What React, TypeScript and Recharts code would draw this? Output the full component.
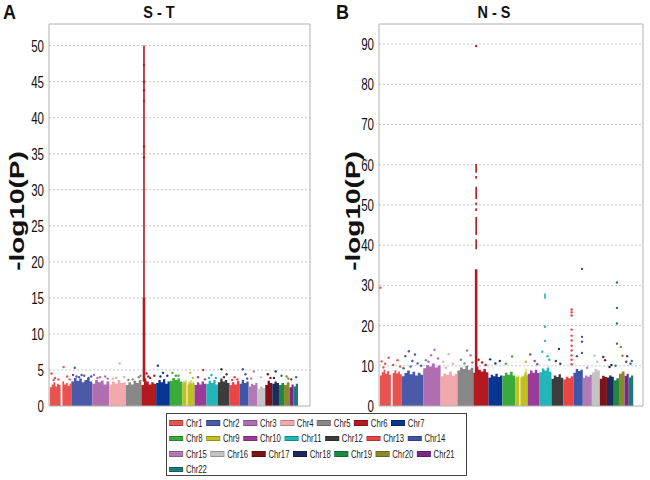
import { ComposedChart, Area, Line, Scatter, XAxis, YAxis, CartesianGrid, ReferenceArea } from 'recharts';

const FONT = '"Liberation Sans", Arial, sans-serif';
// the whole figure is squeezed horizontally, text included
const SQUEEZE = 0.7;

const CHROMS = ['Chr1', 'Chr2', 'Chr3', 'Chr4', 'Chr5', 'Chr6', 'Chr7', 'Chr8', 'Chr9', 'Chr10', 'Chr11',
  'Chr12', 'Chr13', 'Chr14', 'Chr15', 'Chr16', 'Chr17', 'Chr18', 'Chr19', 'Chr20', 'Chr21', 'Chr22'];
const CHROM_COLORS = ['#e8534f', '#4b5aa8', '#b06db0', '#f2a9ac', '#888888', '#b3191f', '#073591', '#3aaa3a',
  '#c0c01e', '#9b3b98', '#22b6b6', '#3c3c3c', '#e94545', '#3f56a8', '#b27ab4', '#c4c4c4', '#7d1318',
  '#1c2a5c', '#1f8742', '#8a8a2c', '#7a2a86', '#1b7b7b'];
const CHROM_LENGTHS = [249, 243, 198, 191, 181, 171, 159, 146, 141, 136, 135, 134, 115, 107, 103, 90, 81, 78, 59, 63, 48, 51];

// S - T panel: dense block heights per chromosome (0 = gap), then isolated hits [chr, Mb, -log10P]
const SKYLINE_ST = [
  [2.6, 3.0, 3.3, 2.7, 3.1, 2.9, 0, 3.4, 3.0, 3.2, 2.8, 3.1],
  [3.4, 3.9, 3.5, 3.8, 3.3, 3.6, 3.9, 3.4],
  [3.1, 3.6, 3.3, 3.5, 3.0, 3.4],
  [3.0, 3.4, 3.1, 3.6, 3.2, 3.3],
  [2.9, 3.3, 3.0, 3.5, 3.2, 3.6],
  [2.9, 3.8, 3.4, 3.0, 3.3, 3.1],
  [3.2, 3.6, 3.3, 3.7, 3.1, 3.4],
  [3.5, 3.9, 3.6, 3.8, 3.4],
  [3.2, 3.5, 3.3, 3.6, 0, 3.0, 3.4, 3.2, 3.6, 3.1, 3.4, 3.2],
  [2.9, 3.3, 3.0, 3.4, 3.1],
  [3.1, 3.5, 3.2, 3.6, 3.0],
  [3.3, 3.8, 3.4, 3.6, 3.2],
  [2.9, 3.3, 3.0, 3.5],
  [3.1, 3.6, 3.2, 3.4],
  [2.7, 3.1, 2.9, 3.2],
  [2.4, 2.7, 2.5],
  [2.9, 3.5, 3.2],
  [3.1, 3.4, 3.2],
  [2.9, 3.2],
  [2.9, 3.3],
  [2.6, 3.0],
  [2.7, 3.1],
];
const HITS_ST: [number, number, number][] = [
  [1, 20, 4.5], [1, 45, 3.6], [1, 60, 3.9], [1, 100, 3.7], [1, 160, 5.4], [1, 200, 4.1], [1, 230, 3.7],
  [2, 20, 4.3], [2, 40, 5.3], [2, 60, 4.1], [2, 90, 4.0], [2, 120, 4.3], [2, 150, 4.2], [2, 200, 3.9], [2, 230, 4.1],
  [3, 20, 4.3], [3, 60, 3.9], [3, 90, 4.0], [3, 150, 4.1], [3, 180, 3.8],
  [4, 40, 3.8], [4, 80, 3.9], [4, 120, 5.9], [4, 170, 4.0],
  [5, 30, 3.6], [5, 80, 3.7], [5, 150, 4.0], [5, 170, 4.2],
  [6, 60, 4.5], [6, 80, 4.1], [6, 100, 3.9], [6, 150, 4.2],
  [7, 20, 5.6], [7, 50, 4.1], [7, 80, 4.6], [7, 130, 4.2],
  [8, 30, 4.6], [8, 70, 4.2], [8, 100, 4.2],
  [9, 90, 4.6], [9, 120, 3.9],
  [10, 40, 4.0], [10, 100, 5.0], [10, 120, 3.7],
  [11, 30, 3.9], [11, 60, 4.3], [11, 110, 3.9],
  [12, 40, 5.1], [12, 70, 4.0], [12, 100, 4.4],
  [13, 30, 3.6], [13, 60, 4.0], [13, 90, 3.7],
  [14, 40, 5.1], [14, 70, 4.4], [14, 90, 3.8],
  [15, 30, 3.8], [15, 60, 4.8],
  [16, 40, 4.0],
  [17, 30, 4.4], [17, 60, 3.9],
  [18, 20, 3.9], [18, 40, 4.8],
  [19, 30, 4.2],
  [20, 30, 4.1], [20, 50, 3.8],
  [21, 20, 3.7],
  [22, 30, 4.0],
  [6, 30, 47.3], [6, 30, 45.0], [6, 30, 43.8], [6, 30, 42.3], [6, 30, 36.0], [6, 30, 34.5],
];
// vertical runs of hits [chr, Mb, from, to]
const COLUMN_ST: [number, number, number, number][] = [[6, 30, 3.4, 50.0]];
const CORE_ST: [number, number, number, number][] = [[6, 30, 3.4, 15.0]];

// N - S panel
const SKYLINE_NS = [
  [7.6, 8.4, 9.0, 8.0, 8.7, 7.8, 0, 8.2, 8.9, 8.1, 8.6, 7.9],
  [7.4, 8.2, 8.8, 7.9, 8.5, 7.6, 8.3, 7.8],
  [9.4, 10.2, 9.8, 10.6, 9.6, 10.1],
  [7.4, 8.1, 7.8, 8.6, 7.5, 8.0],
  [8.8, 9.6, 9.2, 10.0, 9.0, 9.5],
  [8.3, 9.8, 9.0, 8.6, 9.2, 8.4],
  [7.0, 7.8, 7.4, 8.0, 7.2, 7.6],
  [7.5, 8.3, 7.8, 8.5, 7.6],
  [7.0, 7.4, 7.2, 7.6, 0, 7.1, 7.5, 7.3, 7.8, 8.4, 9.2, 7.6],
  [8.0, 8.8, 8.3, 9.0, 8.2],
  [8.4, 9.3, 8.8, 9.6, 8.5],
  [6.8, 7.6, 7.2, 7.9, 7.0],
  [6.6, 7.3, 6.9, 7.4],
  [8.3, 9.2, 8.7, 9.0],
  [7.0, 7.6, 7.3, 7.8],
  [8.4, 9.2, 8.8],
  [6.8, 7.5, 7.2],
  [7.1, 7.6, 7.3],
  [6.4, 6.9],
  [8.0, 8.6],
  [7.5, 8.0],
  [7.1, 7.6],
];
const HITS_NS: [number, number, number][] = [
  [1, 5, 29.4], [1, 20, 11.1], [1, 40, 9.6], [1, 60, 10.5], [1, 100, 12.0], [1, 150, 10.2], [1, 200, 11.4], [1, 230, 9.8],
  [2, 20, 9.4], [2, 40, 12.4], [2, 80, 13.6], [2, 100, 9.8], [2, 120, 11.2], [2, 150, 12.8], [2, 180, 10.6], [2, 220, 10.0],
  [3, 30, 11.4], [3, 60, 11.0], [3, 90, 12.6], [3, 130, 14.0], [3, 170, 11.8],
  [4, 30, 11.0], [4, 60, 9.5], [4, 90, 12.9], [4, 140, 10.5],
  [5, 40, 11.5], [5, 80, 10.6], [5, 110, 13.8], [5, 150, 12.6], [5, 170, 10.8],
  [6, 32, 89.5], [6, 60, 11.5], [6, 100, 10.8], [6, 140, 10.2],
  [7, 20, 11.6], [7, 80, 10.6], [7, 130, 11.2],
  [8, 40, 10.5], [8, 110, 12.3],
  [9, 120, 11.0],
  [10, 30, 12.8], [10, 80, 11.2], [10, 110, 10.4],
  [11, 30, 13.5], [11, 61, 19.7], [11, 61, 16.2], [11, 90, 12.4], [11, 110, 11.5],
  [12, 50, 11.2], [12, 85, 14.2], [12, 100, 10.5],
  [13, 95, 24.0], [13, 95, 23.3], [13, 95, 22.5], [13, 95, 19.0], [13, 95, 17.5], [13, 95, 16.3],
  [13, 95, 15.0], [13, 95, 13.8], [13, 95, 12.6], [13, 95, 11.5], [13, 95, 10.4],
  [14, 40, 12.4], [14, 98, 34.1], [14, 98, 17.2], [14, 98, 16.0], [14, 98, 13.2],
  [15, 50, 9.5],
  [16, 30, 12.5], [16, 60, 11.0],
  [17, 40, 12.2], [17, 60, 11.4],
  [18, 30, 9.7], [18, 50, 10.2],
  [19, 36, 30.7], [19, 36, 24.4], [19, 36, 20.5], [19, 36, 15.5], [19, 20, 10.0],
  [20, 20, 14.7], [20, 40, 12.5],
  [21, 20, 11.0], [21, 30, 12.4],
  [22, 20, 10.5], [22, 35, 11.2],
];
const COLUMN_NS: [number, number, number, number][] = [
  [6, 32, 39.0, 41.5], [6, 32, 42.5, 47.0], [6, 32, 48.5, 49.2], [6, 32, 50.0, 50.6],
  [6, 32, 51.5, 54.5], [6, 32, 56.5, 57.2], [6, 32, 58.0, 60.2], [11, 61, 26.7, 28.0],
];
const CORE_NS: [number, number, number, number][] = [[6, 32, 8.0, 34.0]];

const TICKS_ST = [0, 5, 10, 15, 20, 25, 30, 35, 40, 45, 50];
const GRID_ST = [2.5, 5, 7.5, 10, 12.5, 15, 17.5, 20, 22.5, 25, 27.5, 30, 32.5, 35, 37.5, 40, 42.5, 45, 47.5, 50];
const TICKS_NS = [0, 10, 20, 30, 40, 50, 60, 70, 80, 90];
const GRID_NS = [5, 10, 15, 20, 25, 30, 35, 40, 45, 50, 55, 60, 65, 70, 75, 80, 85, 90];

const offsets: number[] = [];
CHROM_LENGTHS.forEach((len, i) => offsets.push(i === 0 ? 0 : offsets[i - 1] + CHROM_LENGTHS[i - 1]));

const skylineSeries = (heights: number[][]) =>
  heights.map((hs, c) => {
    const seg = CHROM_LENGTHS[c] / hs.length;
    const pts = hs.map((h, i) => ({ x: offsets[c] + i * seg, y: h }));
    pts.push({ x: offsets[c] + CHROM_LENGTHS[c], y: hs[hs.length - 1] });
    return pts;
  });

const hitPoints = (hits: [number, number, number][]) =>
  hits.map(([chr, pos, p]) => ({ x: offsets[chr - 1] + pos, y: p, fill: CHROM_COLORS[chr - 1] }));

const Dot = (props: any) => {
  const { cx, cy, payload } = props;
  if (cx == null || cy == null) return null;
  return <circle cx={cx} cy={cy} r={1.2} fill={payload?.fill} />;
};

const SqueezedTick = (props: any) => {
  const { x, y, payload } = props;
  return (
    <g transform={`translate(${x},${y}) scale(${SQUEEZE},1)`}>
      <text textAnchor="end" dy="0.36em" fontSize={16.5} fill="#111" fontFamily={FONT}>{payload.value}</text>
    </g>
  );
};

function Manhattan({ skyline, hits, columns, cores, yMax, xDomain, ticks, grid, marginRight }: any) {
  const sky = skylineSeries(skyline);
  const pts = hitPoints(hits);
  return (
    <ComposedChart width={320} height={420} margin={{ top: 24, right: marginRight, bottom: 14, left: 0 }}>
      <CartesianGrid vertical={false} horizontalValues={grid} stroke="#c8c8c8" strokeDasharray="2 2" />
      <XAxis type="number" dataKey="x" domain={xDomain} allowDataOverflow hide />
      <YAxis type="number" dataKey="y" domain={[0, yMax]} ticks={ticks} allowDataOverflow width={49}
        axisLine={false} tickLine={false} tickSize={0} tickMargin={5} tick={<SqueezedTick />} />
      {sky.map((d, c) => (
        <Area key={CHROMS[c]} data={d} dataKey="y" type="stepAfter" fill={CHROM_COLORS[c]} fillOpacity={1}
          stroke="none" dot={false} activeDot={false} isAnimationActive={false} />
      ))}
      {columns.map(([chr, pos, from, to]: number[], i: number) => (
        <Line key={'col' + i} data={[{ x: offsets[chr - 1] + pos, y: from }, { x: offsets[chr - 1] + pos, y: to }]}
          dataKey="y" stroke={CHROM_COLORS[chr - 1]} strokeWidth={1.6} dot={false} activeDot={false} isAnimationActive={false} />
      ))}
      {cores.map(([chr, pos, from, to]: number[], i: number) => (
        <Line key={'core' + i} data={[{ x: offsets[chr - 1] + pos, y: from }, { x: offsets[chr - 1] + pos, y: to }]}
          dataKey="y" stroke={CHROM_COLORS[chr - 1]} strokeWidth={2.6} dot={false} activeDot={false} isAnimationActive={false} />
      ))}
      <Scatter data={pts} shape={Dot} isAnimationActive={false} />
      <ReferenceArea x1={xDomain[0]} x2={xDomain[1]} y1={0} y2={yMax} fill="none" stroke="#b0b0b0" strokeWidth={1} />
    </ComposedChart>
  );
}

function ChromLegend() {
  const rows: string[][] = [];
  CHROMS.forEach((name, i) => {
    if (i % 7 === 0) rows.push([]);
    rows[rows.length - 1].push(name);
  });
  return (
    <div style={{
      position: 'absolute', left: 166, top: 413, width: 301, height: 63, boxSizing: 'border-box',
      border: '1px solid #444', background: '#fff', overflow: 'hidden',
    }}>
      <div style={{
        width: 430, transform: `scaleX(${SQUEEZE})`, transformOrigin: 'left top', padding: '1px 0 0 3px',
        fontFamily: FONT, fontSize: 11, color: '#222',
      }}>
        {rows.map((row, r) => (
          <div key={r} style={{ display: 'flex', height: 15.5, alignItems: 'center' }}>
            {row.map((name) => {
              const i = CHROMS.indexOf(name);
              return (
                <div key={name} style={{ display: 'flex', alignItems: 'center', marginRight: 5 }}>
                  <span style={{
                    display: 'inline-block', width: 18, height: 3.5, background: CHROM_COLORS[i], marginRight: 4,
                    border: '0.5px solid rgba(0,0,0,0.25)',
                  }} />
                  <span>{name}</span>
                </div>
              );
            })}
          </div>
        ))}
      </div>
    </div>
  );
}

function Annotations() {
  const bold = { fontFamily: FONT, fontWeight: 'bold' as const, fill: '#111' };
  return (
    <svg width={650} height={480} style={{ position: 'absolute', left: 0, top: 0, pointerEvents: 'none' }}>
      <g transform="translate(3,19) scale(0.9,1)"><text {...bold} fontSize={20}>A</text></g>
      <g transform="translate(336,19) scale(0.9,1)"><text {...bold} fontSize={20}>B</text></g>
      <g transform="translate(159,18) scale(0.85,1)"><text {...bold} fontSize={17} textAnchor="middle">S - T</text></g>
      <g transform="translate(494,18) scale(0.85,1)"><text {...bold} fontSize={17} textAnchor="middle">N - S</text></g>
      <g transform={`translate(17,211) scale(${SQUEEZE},1) rotate(-90)`}>
        <text {...bold} fontSize={28} textAnchor="middle" dominantBaseline="central">-log10(P)</text>
      </g>
      <g transform={`translate(353,211) scale(${SQUEEZE},1) rotate(-90)`}>
        <text {...bold} fontSize={28} textAnchor="middle" dominantBaseline="central">-log10(P)</text>
      </g>
    </svg>
  );
}

export default function App() {
  return (
    <div style={{ position: 'absolute', left: 0, top: 0, width: 650, height: 480, background: '#fff' }}>
      <div style={{ position: 'absolute', left: 0, top: 0 }}>
        <Manhattan skyline={SKYLINE_ST} hits={HITS_ST} columns={COLUMN_ST} cores={CORE_ST} yMax={53}
          xDomain={[-10, 3018]} ticks={TICKS_ST} grid={GRID_ST} marginRight={10} />
      </div>
      <div style={{ position: 'absolute', left: 330, top: 0 }}>
        <Manhattan skyline={SKYLINE_NS} hits={HITS_NS} columns={COLUMN_NS} cores={CORE_NS} yMax={95}
          xDomain={[-10, 2990]} ticks={TICKS_NS} grid={GRID_NS} marginRight={7} />
      </div>
      <Annotations />
      <ChromLegend />
    </div>
  );
}
